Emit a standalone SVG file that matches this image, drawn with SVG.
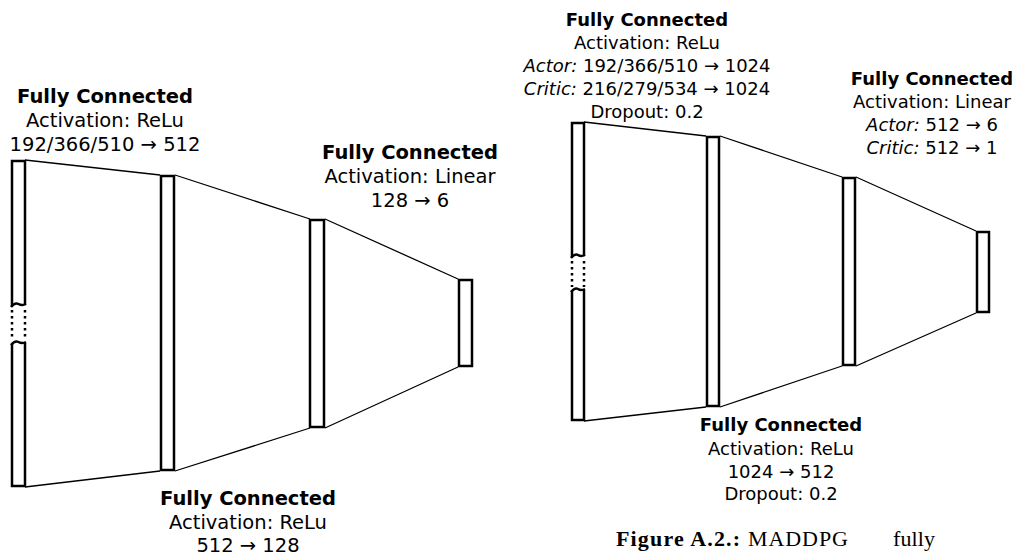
<svg xmlns="http://www.w3.org/2000/svg" width="1014" height="555" viewBox="0 0 1014 555">
<style>
.box{fill:none;stroke:#000;stroke-width:2.5}
.ln{fill:none;stroke:#000;stroke-width:1.3}
.dot{fill:none;stroke:#000;stroke-width:2.5;stroke-dasharray:2.5 3.5}
.t{font-family:"DejaVu Sans",sans-serif;text-anchor:middle;fill:#000}
.l{font-size:19.5px}
.r{font-size:18px}
.b{font-weight:bold}
.i{font-style:italic}
.cap{font-family:"Liberation Serif",serif;font-size:22px;fill:#000}
</style>
<g id="connectors">
<path class="ln" d="M25,160 L160,175 M25,487 L160,471 M175,175 L310,219 M175,471 L310,428 M325,219 L458,279 M325,428 L458,367"/>
<path class="ln" d="M584,122 L706,136 M584,421 L706,407 M720,136 L842,177 M720,407 L842,366 M856,177 L976,231 M856,366 L976,313"/>
</g>
<g id="left-input">
<path class="box" d="M12,306 L12,161 L25,161 L25,305"/>
<path class="box" d="M11,307 Q15,302 18.5,304 T26,304"/>
<path class="dot" d="M12,310 L12,340 M25,310 L25,340"/>
<path class="box" d="M11,345 Q15,340 18.5,342 T26,342"/>
<path class="box" d="M12,344 L12,486 L25,486 L25,343"/>
</g>
<g id="left-fc1">
<rect class="box" x="161" y="176" width="13" height="294"/>
<text class="t l b" x="105" y="103">Fully Connected</text>
<text class="t l" x="105" y="127">Activation: ReLu</text>
<text class="t l" x="105" y="151">192/366/510 → 512</text>
</g>
<g id="left-fc2">
<rect class="box" x="310" y="220" width="14" height="207"/>
<text class="t l b" x="248" y="505">Fully Connected</text>
<text class="t l" x="248" y="529">Activation: ReLu</text>
<text class="t l" x="248" y="552">512 → 128</text>
</g>
<g id="left-fc3">
<rect class="box" x="459" y="280" width="13" height="86"/>
<text class="t l b" x="410" y="159">Fully Connected</text>
<text class="t l" x="410" y="183">Activation: Linear</text>
<text class="t l" x="410" y="207">128 → 6</text>
</g>
<g id="right-input">
<path class="box" d="M572,257 L572,123 L584,123 L584,256"/>
<path class="box" d="M571,258 Q575,253 578,255 T585,255"/>
<path class="dot" d="M572,261 L572,287 M584,261 L584,287"/>
<path class="box" d="M571,292 Q575,287 578,289 T585,289"/>
<path class="box" d="M572,291 L572,420 L584,420 L584,290"/>
</g>
<g id="right-fc1">
<rect class="box" x="707" y="137" width="12" height="269"/>
<text class="t r b" x="647" y="26">Fully Connected</text>
<text class="t r" x="647" y="49">Activation: ReLu</text>
<text class="t r" x="647" y="72"><tspan class="i">Actor:</tspan> 192/366/510 → 1024</text>
<text class="t r" x="647" y="95"><tspan class="i">Critic:</tspan> 216/279/534 → 1024</text>
<text class="t r" x="647" y="118">Dropout: 0.2</text>
</g>
<g id="right-fc2">
<rect class="box" x="843" y="178" width="12" height="187"/>
<text class="t r b" x="781" y="431">Fully Connected</text>
<text class="t r" x="781" y="455">Activation: ReLu</text>
<text class="t r" x="781" y="478">1024 → 512</text>
<text class="t r" x="781" y="500">Dropout: 0.2</text>
</g>
<g id="right-fc3">
<rect class="box" x="977" y="232" width="12" height="80"/>
<text class="t r b" x="932" y="85">Fully Connected</text>
<text class="t r" x="932" y="108">Activation: Linear</text>
<text class="t r" x="932" y="131"><tspan class="i">Actor:</tspan> 512 → 6</text>
<text class="t r" x="932" y="154"><tspan class="i">Critic:</tspan> 512 → 1</text>
</g>
<g id="caption">
<text class="cap" x="616" y="546" font-weight="bold" textLength="124">Figure A.2.:</text>
<text class="cap" x="748" y="546" textLength="100">MADDPG</text>
<text class="cap" x="893" y="546" textLength="42">fully</text>
</g>
</svg>
